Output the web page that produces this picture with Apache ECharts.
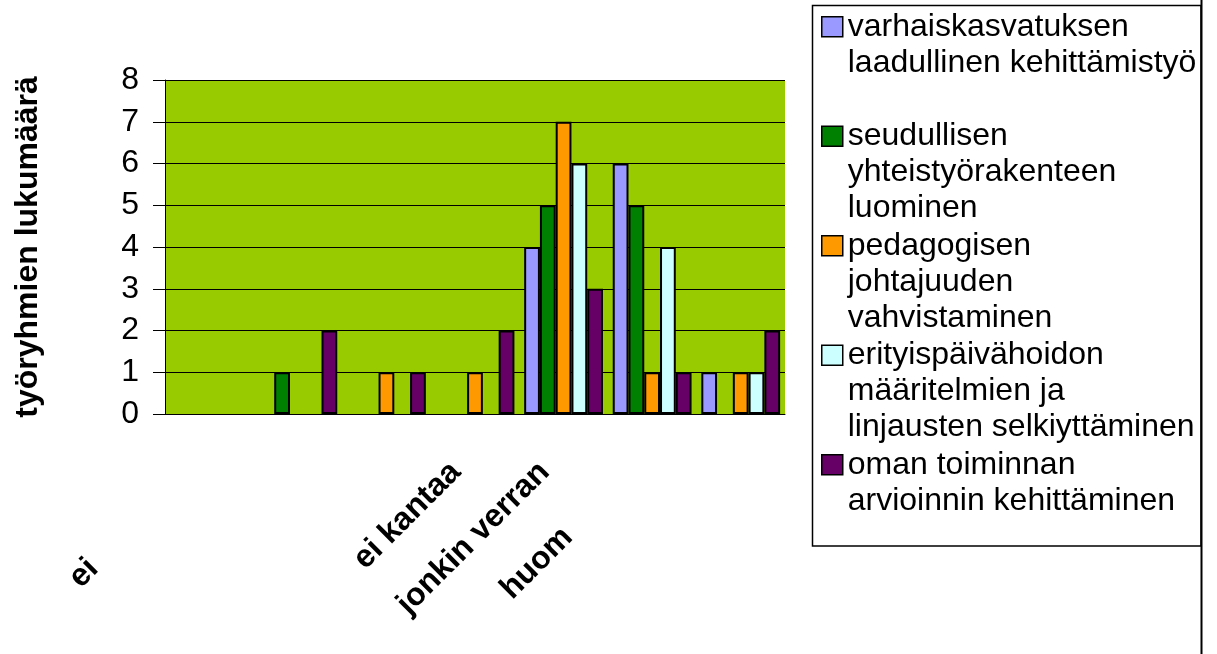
<!DOCTYPE html>
<html>
<head>
<meta charset="utf-8">
<script src="https://cdn.jsdelivr.net/npm/echarts@6/dist/echarts.min.js"></script>
<style>
  html, body { margin: 0; padding: 0; background: #fff; }
  #chart { width: 1217px; height: 654px; }
</style>
</head>
<body>
<div id="chart"></div>
<script>
// luokat (x-akseli); osa nimistä on kuvassa piilossa, näkyvä osa = visibleChars
var categories = ['ei lainkaan', '', '', 'ei kantaa', 'jonkin verran', 'huomattava', ''];
var visibleChars = [2, 0, 0, 9, 13, 4, 0];

var seriesNames = [
  'varhaiskasvatuksen laadullinen kehittämistyö',
  'seudullisen yhteistyörakenteen luominen',
  'pedagogisen johtajuuden vahvistaminen',
  'erityispäivähoidon määritelmien ja linjausten selkiyttäminen',
  'oman toiminnan arvioinnin kehittäminen'
];
// legendan rivitys
var legendLines = [
  ['varhaiskasvatuksen', 'laadullinen kehittämistyö', ' '],
  ['seudullisen', 'yhteistyörakenteen', 'luominen'],
  ['pedagogisen', 'johtajuuden', 'vahvistaminen'],
  ['erityispäivähoidon', 'määritelmien ja', 'linjausten selkiyttäminen'],
  ['oman toiminnan', 'arvioinnin kehittäminen', ' ']
];

var varhaiskasvatus = [0, 0, 0, 0, 4, 6, 1];
var seudullinen = [0, 1, 0, 0, 5, 5, 0];
var pedagoginen = [0, 0, 1, 1, 7, 1, 1];
var erityispaivahoito = [0, 0, 0, 0, 6, 4, 1];
var omaToiminta = [0, 2, 1, 2, 3, 1, 2];

var yTicks = [0, 1, 2, 3, 4, 5, 6, 7, 8];

var colors = ['#9999FF', '#008000', '#FF9900', '#CCFFFF', '#660066'];
var values = [varhaiskasvatus, seudullinen, pedagoginen, erityispaivahoito, omaToiminta];
var font = 'Liberation Sans, Arial, sans-serif';

var mChart = echarts.init(document.getElementById('chart'));

var series = [];
seriesNames.forEach(function (name, i) {
  series.push({
    name: name,
    type: 'bar',
    // nollapylväälle ei reunaviivaa (kuten Excelissä)
    data: values[i].map(function (v) {
      return v === 0 ? { value: v, itemStyle: { borderWidth: 0 } } : v;
    }),
    barGap: '0%',
    barCategoryGap: '11%',
    itemStyle: {
      color: colors[i],
      borderColor: '#000',
      borderWidth: 2
    }
  });
});

mChart.setOption({
  animation: false,
  color: colors,
  textStyle: { fontFamily: font },
  grid: {
    left: 165,
    right: 432,
    top: 80,
    bottom: 240,
    show: true,
    backgroundColor: '#99CC00',
    borderWidth: 0
  },
  legend: {
    orient: 'vertical',
    left: 821,
    top: 8,
    padding: 0,
    itemGap: 0,
    itemWidth: 21,
    itemHeight: 108,
    // ruutu ylärivin kohdalle
    icon: 'path://M0,0L0,0M0,8L21,8L21,28L0,28ZM21,108L21,108',
    itemStyle: { borderColor: '#000', borderWidth: 1.5 },
    textStyle: { fontSize: 32, lineHeight: 36, color: '#000', fontFamily: font },
    formatter: function (name) {
      return legendLines[seriesNames.indexOf(name)].join('\n');
    },
    data: seriesNames
  },
  xAxis: {
    type: 'category',
    data: categories,
    axisLine: { lineStyle: { color: '#000', width: 1 } },
    axisTick: { length: 10, lineStyle: { color: '#000' } },
    axisLabel: {
      interval: 0,
      rotate: 45,
      margin: 34,
      padding: [0, 27, 0, 0],
      formatter: function (value, idx) {
        var n = visibleChars[idx];
        var shown = value.slice(0, n), hidden = value.slice(n);
        var s = '';
        if (shown) s += '{a|' + shown + '}';
        if (hidden) s += '{b|' + hidden + '}';
        return s;
      },
      rich: {
        a: { fontSize: 32, fontWeight: 'bold', color: '#000', fontFamily: font },
        b: { fontSize: 32, fontWeight: 'bold', color: 'transparent', fontFamily: font }
      }
    }
  },
  yAxis: {
    type: 'value',
    min: yTicks[0],
    max: yTicks[yTicks.length - 1],
    interval: 1,
    name: 'työryhmien lukumäärä',
    nameLocation: 'middle',
    nameGap: 121,
    nameTextStyle: { fontSize: 32, fontWeight: 'bold', color: '#000', fontFamily: font },
    axisLine: { show: true, lineStyle: { color: '#000', width: 1 } },
    axisTick: { show: true, length: 12, lineStyle: { color: '#000' } },
    axisLabel: { margin: 26, fontSize: 32, color: '#000', fontFamily: font },
    splitLine: { lineStyle: { color: '#000', width: 1 } }
  },
  graphic: [
    {
      type: 'rect',
      shape: { x: 812.5, y: 5.5, width: 388.5, height: 540.5 },
      style: { fill: 'none', stroke: '#000', lineWidth: 1.5 },
      silent: true,
      z: -1
    },
    {
      type: 'line',
      shape: { x1: 1201.5, y1: 0, x2: 1201.5, y2: 654 },
      style: { stroke: '#000', lineWidth: 2 },
      silent: true
    }
  ],
  series: series
});
</script>
</body>
</html>
